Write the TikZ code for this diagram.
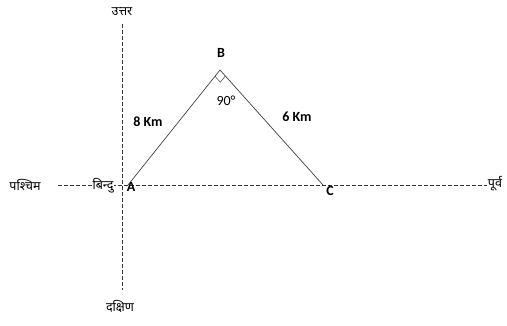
\documentclass[tikz,border=0pt]{standalone}
\usepackage{fontspec}
\usetikzlibrary{calc}
\setmainfont{Carlito}
\newfontfamily\deva[Script=Devanagari]{Noto Sans}
\begin{document}
\begin{tikzpicture}[x=1pt,y=-1pt,
  axis/.style={dash pattern=on 3.5pt off 2.5pt, line width=0.8pt, black!80},
  side/.style={line width=0.7pt, black!75},
  dtext/.style={font=\deva\fontsize{12.5}{14}\selectfont, inner sep=1pt, fill=white},
  ltext/.style={font=\bfseries\fontsize{14}{16}\selectfont, inner sep=1pt}]
\useasboundingbox (0,0) rectangle (507,325);
\coordinate (N) at (122,24);
\coordinate (S) at (122,290);
\coordinate (W) at (58,185);
\coordinate (E) at (488,185);
\coordinate (A) at (128,185);
\coordinate (B) at (220,70);
\coordinate (C) at (323,185);
\draw[axis] (N) -- (S);
\draw[axis] (W) -- (E);
\draw[side] (A) -- (B) -- (C);
\draw[side, line width=0.5pt] ($(B)!8pt!(A)$) -- ($(B)!8pt!(A)+(B)!8pt!(C)-(B)$) -- ($(B)!8pt!(C)$);
\node[dtext] (nu) at (122,12) {उत्तर};
\node[dtext] (da) at (120,306) {दक्षिण};
\node[dtext] (pa) at (25,185) {पश्चिम};
\node[dtext] (pu) at (495,184) {पूर्व};
\node[dtext] (bi) at (103,186) {बिन्दु};
\node[ltext] (la) at (131,187) {A};
\node[ltext] (lb) at (221,53) {B};
\node[ltext] (lc) at (330,191) {C};
\node[ltext] (l8) at (148,122) {8 Km};
\node[ltext] (l6) at (297,117) {6 Km};
\node[font=\fontsize{14}{16}\selectfont] (l90) at (226,101) {90°};
\end{tikzpicture}
\end{document}
